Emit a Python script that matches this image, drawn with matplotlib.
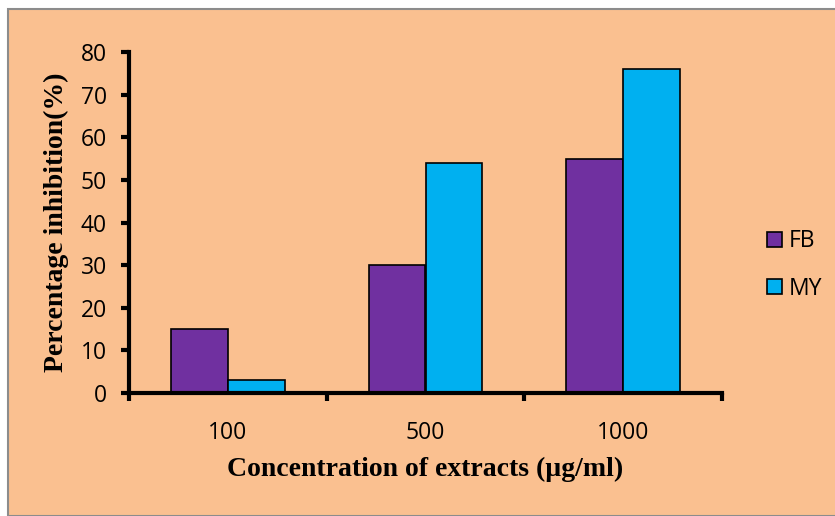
import numpy as np
from matplotlib import pyplot as plt
from matplotlib.patches import Rectangle

categories = ['100', '500', '1000']
fb = [15, 30, 55]
my = [3, 54, 76]
yticks = [0, 10, 20, 30, 40, 50, 60, 70, 80]

bg = '#FAC090'
W, H = 835, 516
fig = plt.figure(figsize=(W / 100, H / 100), dpi=100)
fig.patch.set_facecolor('white')
fig.patches.append(Rectangle((8 / W, 0), 1, 1 - 9 / H, transform=fig.transFigure,
                             facecolor=bg, edgecolor='#8c8c8c', lw=1.5, zorder=-10))

ax = fig.add_axes([129 / W, 1 - 393 / H, (722 - 129) / W, (393 - 52) / H])
ax.set_facecolor('none')

x = np.arange(len(categories))
w = 0.2875
ax.bar(x - w / 2, fb, w, color='#7030A0', edgecolor='black', lw=1.2, label='FB')
ax.bar(x + w / 2, my, w, color='#00B0F0', edgecolor='black', lw=1.2, label='MY')

ax.set_xlim(-0.5, 2.5)
ax.set_ylim(0, 80)
ax.set_yticks(yticks)
ax.set_yticklabels([str(t) for t in yticks], fontsize=16.5, family='Open Sans')
ax.set_xticks(x)
ax.set_xticklabels(categories, fontsize=16.5, family='Open Sans')
ax.set_xticks([-0.5, 0.5, 1.5, 2.5], minor=True)
ax.tick_params(axis='x', which='major', length=0, pad=20)
ax.tick_params(axis='x', which='minor', length=6, width=3, direction='out')
ax.tick_params(axis='y', length=6, width=3, direction='out', pad=10)
for s in ['top', 'right']:
    ax.spines[s].set_visible(False)
for s in ['left', 'bottom']:
    ax.spines[s].set_linewidth(3)

ax.set_ylabel('Percentage inhibition(%)', fontsize=20, fontweight='bold',
              family='Liberation Serif', labelpad=8)
ax.set_xlabel('Concentration of extracts (µg/ml)', fontsize=20, fontweight='bold',
              family='Liberation Serif', labelpad=9)

leg = fig.legend(loc='center left', bbox_to_anchor=(746 / W, 1 - 265 / H),
                 frameon=False, prop={'family': 'Open Sans', 'size': 16.5},
                 handlelength=0.65, handleheight=0.65, handletextpad=0.3,
                 labelspacing=1.02)

fig.savefig('out.png', dpi=100, facecolor=fig.get_facecolor())
